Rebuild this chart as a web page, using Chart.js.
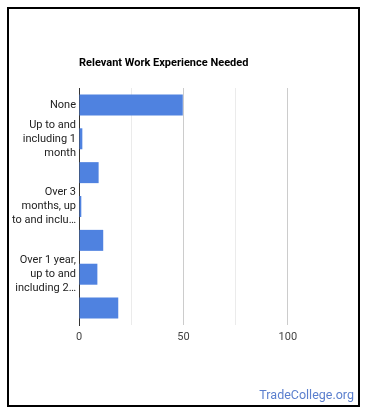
<!DOCTYPE html>
<html>
<head>
<meta charset="utf-8">
<script src="https://cdn.jsdelivr.net/npm/chart.js@4.4.1/dist/chart.umd.min.js"></script>
<style>
  html, body { margin: 0; padding: 0; background: #fff; }
  #wrap { position: relative; width: 370px; height: 417px; overflow: hidden; }
  #frame { position: absolute; left: 7px; top: 7px; width: 349px; height: 396px; border: 2px solid #000; box-sizing: content-box; pointer-events: none; }
  #title { position: absolute; left: 79px; top: 56px; font: bold 11px Roboto, Arial, sans-serif; color: #000; white-space: nowrap; }
  #mark { position: absolute; right: 16px; top: 387px; font: 12.5px Roboto, Arial, sans-serif; color: #5b7fce; white-space: nowrap; }
  canvas { position: absolute; left: 0; top: 0; }
</style>
</head>
<body>
<div id="wrap">
  <canvas id="c" width="370" height="417"></canvas>
  <div id="title">Relevant Work Experience Needed</div>
  <div id="mark">TradeCollege.org</div>
  <div id="frame"></div>
</div>
<script>
const categories = [
  "None",
  "Up to and including 1 month",
  "Over 1 month, up to and including 3 months",
  "Over 3 months, up to and including 6 months",
  "Over 6 months, up to and including 1 year",
  "Over 1 year, up to and including 2 years",
  "Over 2 years, up to and including 4 years"
];
const tickLabels = [
  ["None"],
  ["Up to and", "including 1", "month"],
  [""],
  ["Over 3", "months, up", "to and inclu\u2026"],
  [""],
  ["Over 1 year,", "up to and", "including 2\u2026"],
  [""]
];
const values = [49.7, 1.6, 9.4, 1.1, 11.6, 8.8, 18.8];
const xTickValues = [0, 50, 100];

new Chart(document.getElementById('c'), {
  type: 'bar',
  data: {
    labels: categories,
    datasets: [{
      data: values,
      backgroundColor: '#4f82e0',
      borderWidth: 0,
      barPercentage: 0.62,
      categoryPercentage: 1
    }]
  },
  options: {
    indexAxis: 'y',
    responsive: false,
    animation: false,
    devicePixelRatio: 1,
    layout: { padding: { left: 0, right: 30, top: 88, bottom: 72 } },
    plugins: { legend: { display: false }, tooltip: { enabled: false }, title: { display: false } },
    scales: {
      x: {
        min: 0, max: 125,
        afterFit: s => { s.height = 20; },
        border: { display: false },
        grid: {
          drawTicks: false,
          color: ctx => {
            const v = ctx.tick ? ctx.tick.value : 0;
            if (v === 125) return 'rgba(0,0,0,0)';
            return (v % 50 === 0) ? '#cccccc' : '#ebebeb';
          },
          lineWidth: 1
        },
        ticks: {
          stepSize: 25,
          padding: 6,
          color: '#444',
          font: { family: 'Roboto', size: 11 },
          callback: v => xTickValues.includes(v) ? String(v) : ''
        }
      },
      y: {
        afterFit: s => { s.width = 79; },
        border: { display: true, color: '#333', width: 1 },
        grid: { display: false, drawTicks: false },
        ticks: {
          padding: 3,
          color: '#222',
          autoSkip: false,
          font: { family: 'Roboto', size: 11, lineHeight: 1.27 },
          callback: (v, i) => tickLabels[i]
        }
      }
    }
  }
});
</script>
</body>
</html>
